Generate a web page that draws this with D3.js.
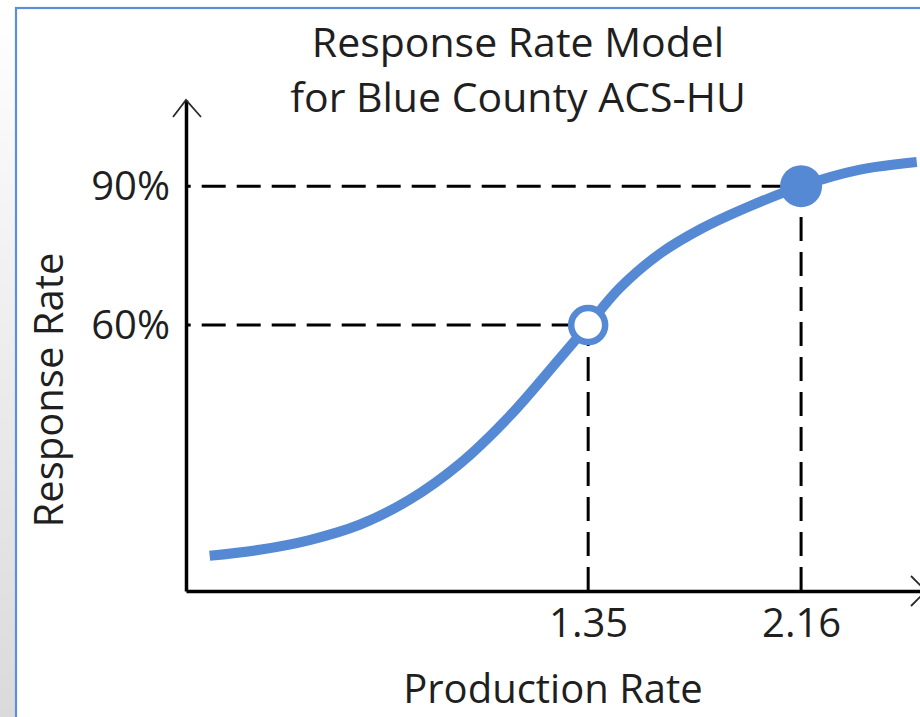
<!DOCTYPE html>
<html>
<head>
<meta charset="utf-8">
<script src="https://cdn.jsdelivr.net/npm/d3@7"></script>
<style>
  html, body { margin: 0; padding: 0; background: #fff; }
  svg { display: block; }
  text { font-family: "Open Sans", "Noto Sans", sans-serif; fill: #1f1f1f; }
</style>
</head>
<body>
<script>
// ---- data ----
const titleLines = ["Response Rate Model", "for Blue County ACS-HU"];
const xTitle = "Production Rate";
const yTitle = "Response Rate";

const xDomain = [-0.18, 2.62];      // production rate at the axis ends
const yDomain = [2.6, 108.6];       // response rate (%) at the axis ends

const xTicks = [1.35, 2.16];
const yTicks = [60, 90];

// the model curve
const prodRate = [-0.09, 0.10, 0.29, 0.48, 0.67, 0.86, 1.05, 1.24, 1.35,
                  1.47, 1.62, 1.78, 1.97, 2.16, 2.38, 2.60];
const respRate = [10.2, 11.5, 13.6, 16.9, 22.3, 30.0, 40.3, 52.7, 60,
                  68.0, 75.3, 80.8, 85.8, 90, 93.5, 95.2];

// highlighted points
const markX = [1.35, 2.16];
const markY = [60, 90];
const markFilled = [false, true];

// ---- drawing ----
const W = 920, H = 717;
const blue = "#5589d4";

const svg = d3.select("body").append("svg").attr("width", W).attr("height", H);

const defs = svg.append("defs");
const grad = defs.append("linearGradient").attr("id", "side")
  .attr("x1", 0).attr("y1", 0).attr("x2", 0).attr("y2", 1);
grad.append("stop").attr("offset", "0%").attr("stop-color", "#ffffff");
grad.append("stop").attr("offset", "100%").attr("stop-color", "#dadada");

svg.append("rect").attr("x", 0).attr("y", 0).attr("width", 16).attr("height", H)
  .attr("fill", "url(#side)");
svg.append("rect").attr("x", 16).attr("y", 8).attr("width", W + 20).attr("height", H + 20)
  .attr("fill", "#fff").attr("stroke", "#5b8fd6").attr("stroke-width", 2.2);

const x = d3.scaleLinear().domain(xDomain).range([186, 922]);
const y = d3.scaleLinear().domain(yDomain).range([591, 100]);

// title
const title = svg.append("text").attr("text-anchor", "middle").style("font-size", "41px");
titleLines.forEach((t, i) => {
  title.append("tspan").attr("x", 518).attr("y", 57 + i * 55).text(t);
});

// dashed guide lines
const guides = svg.append("g").attr("stroke", "#000").attr("stroke-width", 3)
  .attr("stroke-dasharray", "24 11").attr("fill", "none");
markX.forEach((mx, i) => {
  guides.append("line")
    .attr("x1", x(xDomain[0])).attr("x2", x(mx))
    .attr("y1", y(markY[i])).attr("y2", y(markY[i]))
    .attr("stroke-dashoffset", 19.3);
  guides.append("line")
    .attr("x1", x(mx)).attr("x2", x(mx))
    .attr("y1", y(yDomain[0])).attr("y2", y(markY[i]));
});

// axes
const xAxis = svg.append("g").attr("transform", `translate(0,${y(yDomain[0])})`)
  .call(d3.axisBottom(x).tickValues(xTicks).tickSize(0).tickPadding(18)
    .tickFormat(d3.format(".2f")));
const yAxis = svg.append("g").attr("transform", `translate(${x(xDomain[0])},0)`)
  .call(d3.axisLeft(y).tickValues(yTicks).tickSize(0).tickPadding(16)
    .tickFormat(d => d + "%"));
[xAxis, yAxis].forEach(g => {
  g.attr("font-family", null).attr("font-size", null);
  g.select(".domain").attr("stroke", "#000").attr("stroke-width", 3.5);
  g.selectAll(".tick text").style("font-size", "40px").attr("fill", "#1f1f1f");
});
yAxis.selectAll(".tick text").attr("dy", "0.33em");

// arrow heads
const arrows = svg.append("g").attr("stroke", "#2a2a2a").attr("stroke-width", 1.8)
  .attr("fill", "none");
const x0 = x(xDomain[0]), yTop = y(yDomain[1]), yBot = y(yDomain[0]), xEnd = x(xDomain[1]);
arrows.append("path").attr("d", `M${x0 - 13},${yTop + 17}L${x0},${yTop}L${x0 + 15},${yTop + 17}`);
arrows.append("path").attr("d", `M${xEnd - 11},${yBot - 15}L${xEnd + 4},${yBot}L${xEnd - 11},${yBot + 15}`);

// axis titles
svg.append("text").attr("text-anchor", "middle").style("font-size", "40px")
  .attr("x", 553).attr("y", 703).text(xTitle);
svg.append("text").attr("text-anchor", "middle").style("font-size", "40px")
  .attr("transform", "translate(63,390) rotate(-90)").text(yTitle);

// curve
const pts = prodRate.map((p, i) => [p, respRate[i]]);
svg.append("path").datum(pts)
  .attr("fill", "none").attr("stroke", blue).attr("stroke-width", 10)
  .attr("d", d3.line().x(d => x(d[0])).y(d => y(d[1])).curve(d3.curveCatmullRom.alpha(0.5)));

// markers
markX.forEach((mx, i) => {
  const c = svg.append("circle").attr("cx", x(mx)).attr("cy", y(markY[i]));
  if (markFilled[i]) c.attr("r", 21).attr("fill", blue);
  else c.attr("r", 17).attr("fill", "#fff").attr("stroke", blue).attr("stroke-width", 6.5);
});
</script>
</body>
</html>
